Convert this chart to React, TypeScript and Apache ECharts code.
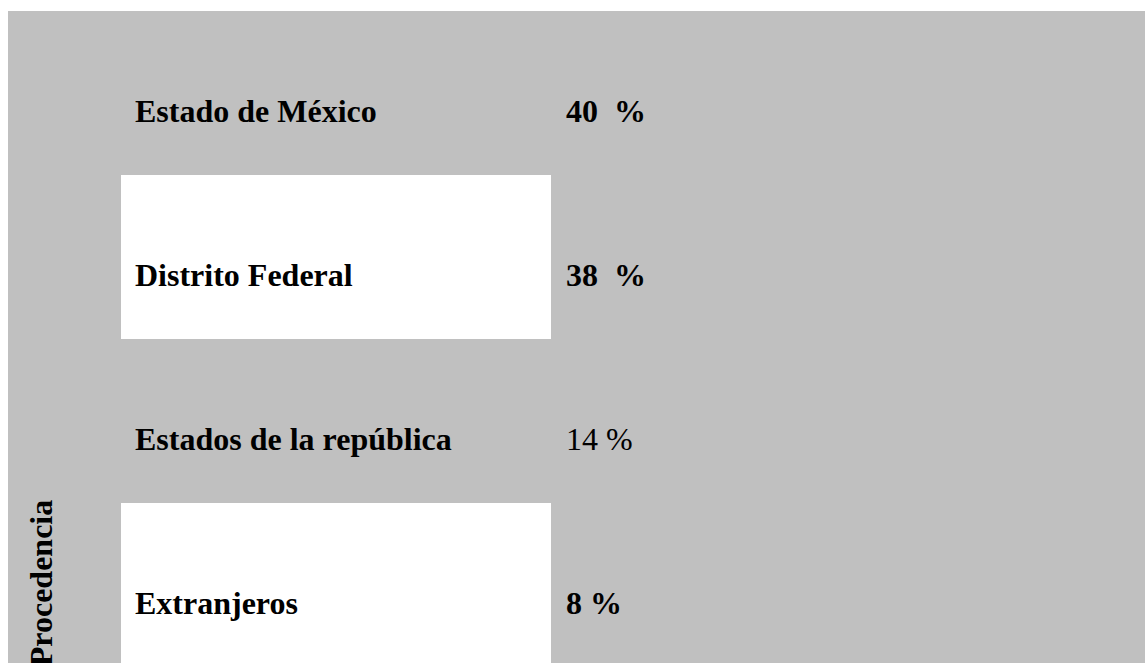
import React, { useEffect, useRef } from "react";
import * as echarts from "echarts";

const categories = ["Estado de México", "Distrito Federal", "Estados de la república", "Extranjeros"];
const percentages = [40, 38, 14, 8];
const percentLabels = ["40\u00a0 %", "38\u00a0 %", "14 %", "8 %"];
const boldPercent = [true, true, false, true];
const axisTitle = "Procedencia";

export default function App() {
  const ref = useRef<HTMLDivElement>(null);
  useEffect(() => {
    if (!ref.current) return;
    const chart = echarts.init(ref.current, undefined, { renderer: "svg" });
    const font = "'Liberation Serif', 'Times New Roman', serif";
    chart.setOption({
      animation: false,
      backgroundColor: "#c0c0c0",
      grid: { left: 113, top: 0, width: 430, height: 656, containLabel: false },
      xAxis: { type: "value", min: 0, max: 100, show: false },
      yAxis: [
        {
          type: "category",
          data: categories,
          inverse: true,
          axisLine: { show: false },
          axisTick: { show: false },
          splitLine: { show: false },
          splitArea: { show: true, areaStyle: { color: ["#c0c0c0", "#ffffff"] } },
          axisLabel: {
            inside: true,
            margin: 14,
            color: "#000",
            fontFamily: font,
            fontWeight: "bold",
            fontSize: 32,
            padding: [36, 0, 0, 0],
            formatter: (v: string) => "{b|" + v + "}",
            rich: {
              b: { fontFamily: font, fontSize: 32, fontWeight: "bold", color: "#000" },
            },
          },
        },
        {
          type: "category",
          data: categories,
          inverse: true,
          position: "right",
          axisLine: { show: false },
          axisTick: { show: false },
          splitLine: { show: false },
          axisLabel: {
            margin: 15,
            color: "#000",
            fontFamily: font,
            fontSize: 32,
            padding: [36, 0, 0, 0],
            formatter: (_v: string, i: number) =>
              (boldPercent[i] ? "{b|" : "{n|") + percentLabels[i] + "}",
            rich: {
              b: { fontFamily: font, fontSize: 32, fontWeight: "bold", color: "#000" },
              n: { fontFamily: font, fontSize: 32, fontWeight: "normal", color: "#000" },
            },
          },
        },
      ],
      series: [
        {
          type: "bar",
          yAxisIndex: 0,
          data: percentages,
          itemStyle: { opacity: 0 },
          silent: true,
          label: { show: false },
        },
      ],
      graphic: [
        {
          type: "text",
          x: 33,
          y: 572,
          rotation: Math.PI / 2,
          style: {
            text: axisTitle,
            fontFamily: font,
            fontWeight: "bold",
            fontSize: 32,
            fill: "#000",
            align: "center",
            verticalAlign: "middle",
          },
        },
      ],
    });
    return () => chart.dispose();
  }, []);
  return (
    <div
      ref={ref}
      style={{ position: "fixed", left: 8, top: 11, width: 1137, height: 660 }}
    />
  );
}
